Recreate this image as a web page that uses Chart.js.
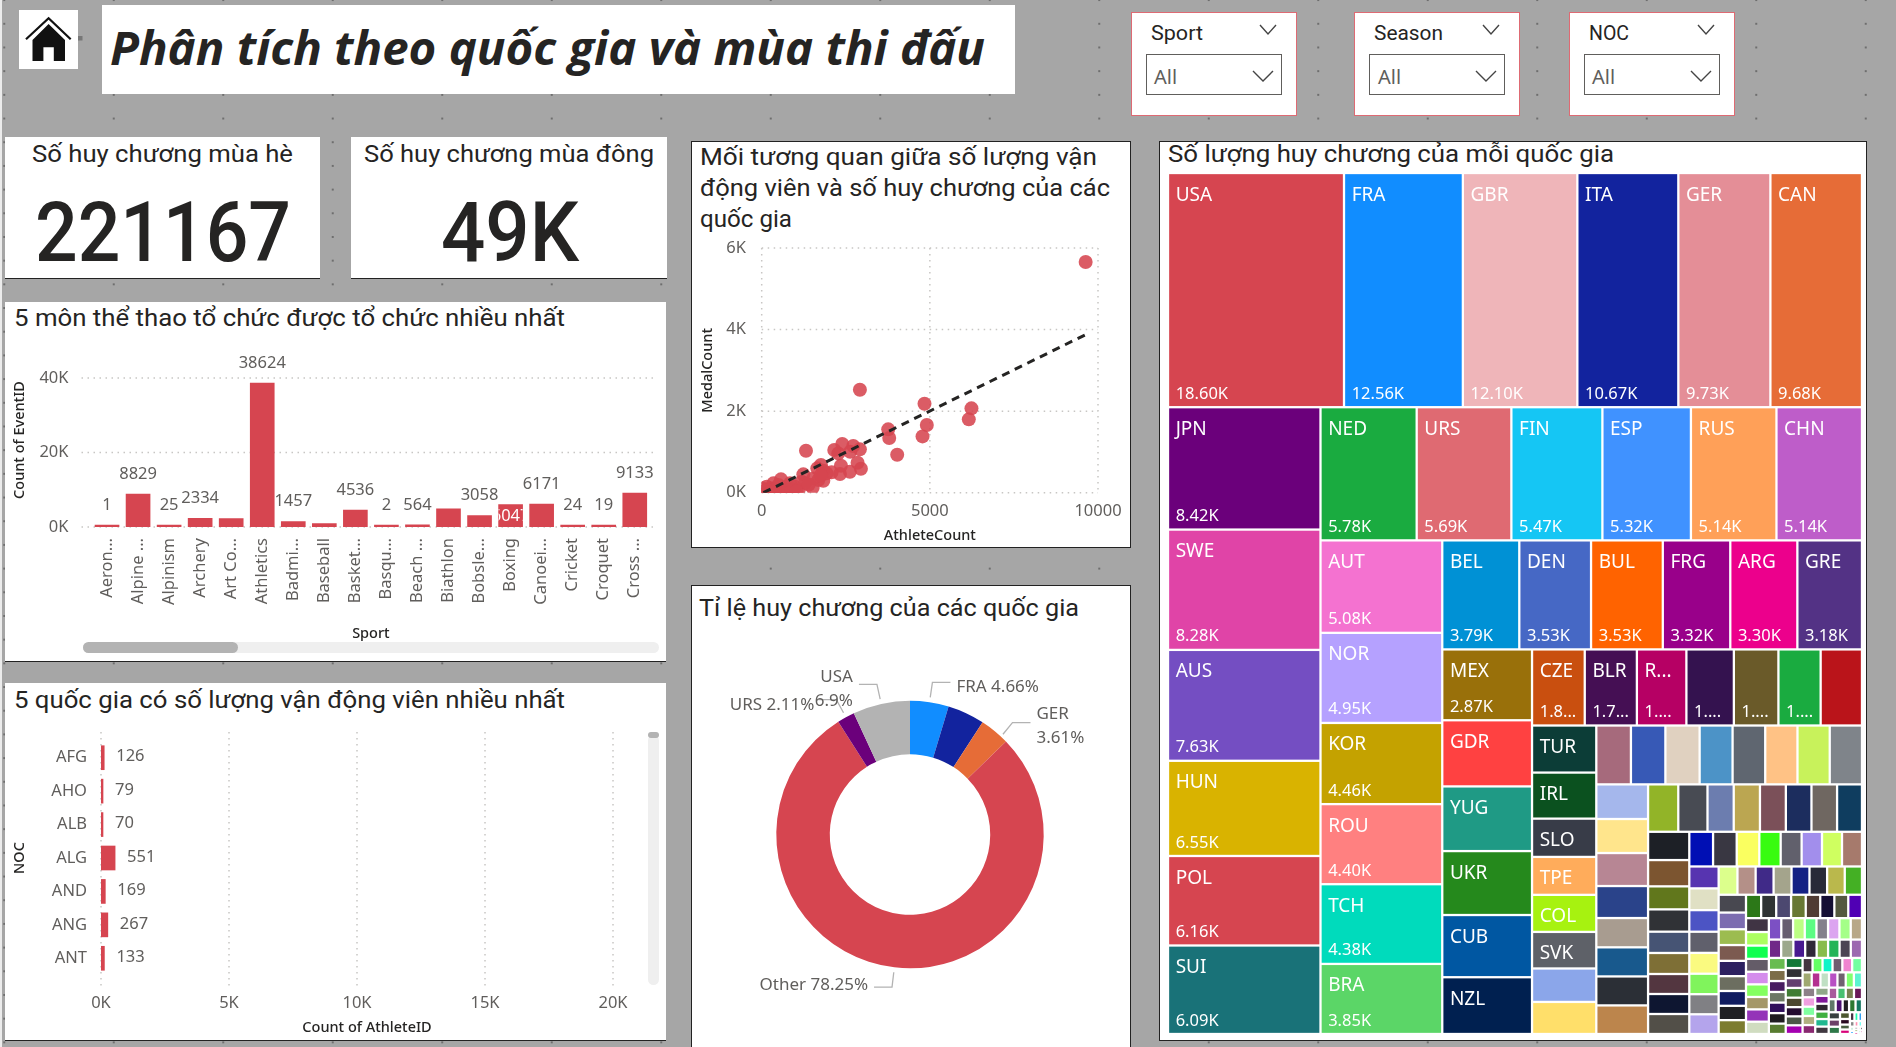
<!DOCTYPE html>
<html lang="vi"><head><meta charset="utf-8"><title>Phân tích theo quốc gia và mùa thi đấu</title>
<script src="https://cdn.jsdelivr.net/npm/chart.js@4/dist/chart.umd.js"></script>
<style>
html,body{margin:0;padding:0;width:1896px;height:1047px;overflow:hidden}
body{position:relative;background-color:#A6A6A6;
background-image:radial-gradient(circle,#6e6e6e 1px,transparent 1.3px);background-size:109.5px 23.7px;background-position:59px 83px}
.p{position:absolute;background:#fff;box-sizing:border-box}
.bb{border-bottom:1.5px solid #222}
.box{border:1.5px solid #222}
canvas{position:absolute;display:block}
.t{position:absolute;white-space:nowrap;transform-origin:left center;line-height:1;color:#252423;font-family:Roboto,sans-serif;font-size:24px}
.sl{border:1.5px solid #DE6A73}
.dd{position:absolute;box-sizing:border-box;border:1.5px solid #605E5C;background:#fff;top:54px;height:41px;width:136px}
.sb{position:absolute;background:#EFEFEF;border-radius:6px}
.th{position:absolute;background:#B3B3B3;border-radius:6px}
svg{position:absolute;overflow:visible}
</style></head><body>
<div style="position:absolute;left:0;top:0;width:2px;height:1047px;background:#ececec"></div>

<div class="p" style="left:19px;top:10px;width:59px;height:59px"></div>
<svg style="left:0;top:0" width="100" height="80">
<polygon points="48.6,24 32.5,40 32.5,61 43.4,61 43.4,47.3 53.8,47.3 53.8,61 65,61 65,40" fill="#111"/>
<polyline points="26,39.3 48.6,18.3 70.7,39.3" fill="none" stroke="#111" stroke-width="2.2"/>
<rect x="78" y="36" width="4.5" height="4.5" fill="#777"/></svg>
<div class="p" style="left:102px;top:5px;width:913px;height:89px"></div>
<div class="t" data-w="875" style="left:110px;top:47px;font:italic 700 46px 'Open Sans',sans-serif;line-height:1">Phân tích theo quốc gia và mùa thi đấu</div>

<div class="p sl" style="left:1131px;top:12px;width:166px;height:104px"></div>
<div class="p sl" style="left:1354px;top:12px;width:166px;height:104px"></div>
<div class="p sl" style="left:1569px;top:12px;width:166px;height:104px"></div>
<div class="t" style="left:1151px;top:33px;font-size:20px" data-w="52">Sport</div>
<div class="t" style="left:1374px;top:33px;font-size:20px" data-w="69">Season</div>
<div class="t" style="left:1589px;top:33px;font-size:20px" data-w="40">NOC</div>
<div class="dd" style="left:1146px"></div><div class="dd" style="left:1369px"></div><div class="dd" style="left:1584px"></div>
<div class="t" style="left:1154px;top:76px;font:20px 'Noto Sans',sans-serif;color:#605E5C">All</div>
<div class="t" style="left:1378px;top:76px;font:20px 'Noto Sans',sans-serif;color:#605E5C">All</div>
<div class="t" style="left:1592px;top:76px;font:20px 'Noto Sans',sans-serif;color:#605E5C">All</div>
<svg style="left:0;top:0" width="1896" height="120" fill="none" stroke="#444" stroke-width="1.4">
<polyline points="1260,25 1268,34 1276,25"/><polyline points="1483,25 1491,34 1499,25"/><polyline points="1698,25 1706,34 1714,25"/>
<polyline points="1253,71 1263,81 1273,71"/><polyline points="1476,71 1486,81 1496,71"/><polyline points="1691,71 1701,81 1711,71"/></svg>

<div class="p bb" style="left:5px;top:137px;width:315px;height:142px"></div>
<div class="p bb" style="left:351px;top:137px;width:316px;height:142px"></div>
<div class="t" data-w="261" style="left:32px;top:154px">Số huy chương mùa hè</div>
<div class="t" data-w="290" style="left:364px;top:154px">Số huy chương mùa đông</div>
<div class="t" data-w="256" style="left:35px;top:233px;font-size:84px;font-weight:500">221167</div>
<div class="t" data-w="138" style="left:441px;top:233px;font-size:84px;font-weight:500">49K</div>

<div class="p bb" style="left:5px;top:302px;width:661px;height:360px"></div>
<div class="t" data-w="551" style="left:14px;top:318px">5 môn thể thao tổ chức được tổ chức nhiều nhất</div>
<canvas id="barChart" width="661" height="360" style="left:5px;top:302px"></canvas>
<div class="sb" style="left:83px;top:642px;width:576px;height:11px"></div>
<div class="th" style="left:83px;top:642px;width:155px;height:11px"></div>

<div class="p bb" style="left:5px;top:683px;width:661px;height:358px"></div>
<div class="t" data-w="551" style="left:14px;top:700px">5 quốc gia có số lượng vận động viên nhiều nhất</div>
<canvas id="hbarChart" width="661" height="358" style="left:5px;top:683px"></canvas>
<div class="sb" style="left:648px;top:735px;width:11px;height:250px"></div>
<div class="th" style="left:648px;top:732px;width:11px;height:6px"></div>

<div class="p box" style="left:691px;top:141px;width:440px;height:407px"></div>
<div class="t" data-w="397" style="left:700px;top:157px">Mối tương quan giữa số lượng vận</div>
<div class="t" data-w="410" style="left:700px;top:188px">động viên và số huy chương của các</div>
<div class="t" data-w="92" style="left:700px;top:219px">quốc gia</div>
<canvas id="scatterChart" width="440" height="407" style="left:691px;top:141px"></canvas>

<div class="p box" style="left:691px;top:585px;width:440px;height:470px"></div>
<div class="t" data-w="380" style="left:699px;top:608px">Tỉ lệ huy chương của các quốc gia</div>
<canvas id="donutChart" width="440" height="462" style="left:691px;top:585px"></canvas>

<div class="p box" style="left:1159px;top:141px;width:708px;height:900px"></div>
<div class="t" data-w="446" style="left:1168px;top:154px">Số lượng huy chương của mỗi quốc gia</div>
<canvas id="treemapChart" width="694" height="861" style="left:1168px;top:173px"></canvas>

<script>
// ---------- data ----------
const sports = ['Aeron...','Alpine ...','Alpinism','Archery','Art Co...','Athletics','Badmi...','Baseball','Basket...','Basqu...','Beach ...','Biathlon','Bobsle...','Boxing','Canoei...','Cricket','Croquet','Cross ...'];
const eventCounts = [1,8829,25,2334,2230,38624,1457,894,4536,2,564,4893,3058,6047,6171,24,19,9133];
const hiddenBarLabels = ['Art Co...','Baseball','Biathlon'];
const insideBarLabels = ['Boxing'];
const eventTicks = [0,20000,40000];

const nocCodes = ['AFG','AHO','ALB','ALG','AND','ANG','ANT'];
const athleteCounts = [126,79,70,551,169,267,133];
const athleteTicks = [0,5000,10000,15000,20000];

const scatterAthletes = [9633,2920,4841,6237,6158,4910,4782,3762,3792,4029,1317,2396,2722,2158,2277,2633,2920,1762,1653,2356,2851,2950,2623,2327,2079,1832,1930,1238,1832,1683,1515,1535,574,842,1188,990,743,347,149,50,10,100,250,450,550,350,650,950,1100,200,30,500,1290,20,60,120,180,280,400,480,620,720,800,880,1040,1400,1750];
const scatterMedals   = [5657,2526,2182,2068,1798,1659,1381,1553,1340,932,1030,1193,1144,1046,964,1005,1063,678,597,662,736,589,515,458,499,540,474,450,294,310,123,351,327,229,270,147,131,229,147,80,20,50,110,110,70,50,80,70,80,40,70,190,230,110,30,10,60,20,30,20,30,20,60,20,30,200,420];
const trendAthletes = [50,9650];
const trendMedals = [0,3883];
const scatterXTicks = [0,5000,10000];
const scatterYTicks = [0,2000,4000,6000];

const donutNames = ['FRA','GBR','GER','Other','URS','USA'];
const donutShares = [4.66,4.47,3.61,78.25,2.11,6.9];
const donutColors = ['#118DFF','#12239E','#E66C37','#D64550','#6B007B','#B3B3B3'];
const donutUnlabelled = ['GBR'];
const donutTwoLine = ['USA','GER'];

const treemapNames = ['USA','FRA','GBR','ITA','GER','CAN','JPN','SWE','AUS','HUN','POL','SUI','NED','URS','FIN','ESP','RUS','CHN','AUT','NOR','KOR','ROU','TCH','BRA','BEL','DEN','BUL','FRG','ARG','GRE','MEX','GDR','YUG','UKR','CUB','NZL','CZE','BLR','R...','','','','','TUR','IRL','SLO','TPE','COL','SVK'];
const treemapValues = [
18600,12560,12100,10670,9730,9680,
8420,8280,7630,6550,6160,6090,
5780,5690,5470,5320,5140,5140,
5080,4950,4460,4400,4380,3850,
3790,3530,3530,3320,3300,3180,
2870,2680,2620,2590,2520,2300,
1810,1790,1700,1630,1530,1450,1420,
1365,1335,1110,1100,1075,1060,970,930,
920,915,910,875,867,857,857,857,
809,795,771,748,684,680,677,668,
646,625,561,561,554,548,548,533,
526,489,428,415,396,391,372,372,372,
372,370,354,334,328,319,313,313,
290,288,286,280,276,271,266,261,240,
232,229,229,229,225,225,220,220,
206,195,195,189,183,183,177,171,160,
159,157,155,153,149,147,145,143,
140,137,133,130,130,128,127,127,120,
114,113,113,112,110,109,109,102,
101,98,95,95,95,93,93,91,
85,83,81,80,80,79,77,
76,75,74,72,70,68,66,65,
65,65,64,64,64,63,
60,59,58,57,56,56,55,
54,53,52,51,50,48,
47,46,46,45,45,44,
43,42,41,41,38,
38,38,37,37,37,
30,25,22,20,
18,16,14,12,10,
9,8,6,5,5,4,3,3,2,2,1,1];
const treemapColors = [
'#D64550','#118DFF','#EFB5B9','#12239E','#E48E97','#E66C37',
'#6B007B','#E044A7','#744EC2','#D9B300','#D64550','#197278',
'#1AAB40','#DF6A72','#15C6F4','#4092FF','#FFA058','#BE5DC9',
'#F472D0','#B5A1FF','#C4A200','#FF8080','#00DBBC','#5BD667',
'#0091D5','#4668C5','#FF6300','#99008A','#EC008C','#533285',
'#99700A','#FF4141','#1F9A85','#25891C','#0057A2','#002050',
'#C94F0F','#450F54','#B60064','#34124F','#6A5A29','#1AAB40','#BA141A',
'#0C3D37','#0B511F','#383C48','#FFAC5B','#A7F210','#5E6168','#8BA6EA','#FFDF6A',
'#A66A7C','#3759B6','#E0D1C0','#4C93C7','#5F6670','#FFC285','#C8F25B','#7F848A',
'#A5B7EC','#FFE58C','#B78694','#2A438A','#A89C90','#18598D','#2B2F36','#BC854C',
'#92B428','#484B53','#6C7DAF','#BBA651','#7B5059','#1C2D5E','#6F6761','#0F3D5F',
'#1D2026','#7C5530','#61771C','#303236','#465474','#7E6F36','#533640','#0E1631','#524F48',
'#000FB4','#393742','#FAFF60','#38FC10','#61606C','#A28EEC','#CFFF60','#A67A6C',
'#5734B0','#E0E0C4','#4C54C4','#60606C','#FAFA80','#80F45C','#808084','#B4A4EC','#DCFF8C',
'#B49088','#402A88','#A4A48C','#142184','#282A38','#BAB84C','#44B024','#484850',
'#7C6CB0','#9CBC50','#7C5A50','#2C2060','#6C6E60','#101C60','#202024','#7C7C30','#2C7818',
'#303434','#4C4870','#687834','#503C34','#140E34','#54583F','#5000B4','#403444',
'#ACFF60','#10FF50','#645C68','#D48CEC','#84FF60','#A49868','#9434B8','#D0DCC0','#7C50C4',
'#665C70','#BCFF84','#5CFC84','#84808C','#DCA4F0','#A4FF88','#B8A888','#702888',
'#9CA88C','#481890','#302838','#88BC4C','#24B458','#4C4454','#9C68B0','#68BC50',
'#7C6C48','#481C60','#6C7864','#30105C','#1F1C20','#587C30','#147838',
'#303034','#644070','#407C34','#4C4830','#240C30','#4C5848','#A400B0','#443440',
'#64FF64','#10F4C8','#705C70','#F084D0','#74FFA0','#A0A870',
'#B43090','#C0E0C4','#B850C4','#706070','#80FF70','#5CF4D0','#8C8088',
'#F0A0E0','#80FFA0','#B0B080','#882870','#90A888','#801898',
'#302830','#40B040','#20B890','#403840','#A85C9C','#48C070',
'#788050','#6A1858','#607868','#4C1070','#201E20',
'#2C7830','#147860','#384040','#6C4068','#2E7848',
'#4C5830','#280820','#485C40','#D80078',
'#443040','#20FFB0','#1090F0','#888888','#FF90B0',
'#60FFF0','#D0F0E0','#40B0FF','#888888','#80A050','#E03090','#F0E0F0','#303030','#60FFB0','#C03090','#70A060','#FFE0F0'];

// ---------- text fitting for the DOM captions ----------
document.querySelectorAll('.t').forEach(el=>{
  let k=1;
  if(el.dataset.w){ k=parseFloat(el.dataset.w)/el.getBoundingClientRect().width; }
  el.style.transform='translateY(-50%) scaleX('+k+')';
});

const RED='#D64550', INK='#605E5C', AXIS='#252423';
const TICK_FONT={family:"'Noto Sans',sans-serif",size:16.5};
const TITLE_FONT={family:"'Noto Sans',sans-serif",size:14.5,weight:'500'};
const NO_GRID={display:false,drawTicks:false};
Chart.defaults.animation=false;
Chart.defaults.responsive=false;
Chart.defaults.maintainAspectRatio=false;
Chart.defaults.events=[];
Chart.defaults.plugins.legend.display=false;
Chart.defaults.plugins.tooltip.enabled=false;
const useTicks=list=>scale=>{scale.ticks=list.map(value=>({value}));};

const dottedGrid={id:'dottedGrid',beforeDatasetsDraw(chart,args,o){
  const ctx=chart.ctx,a=chart.chartArea; ctx.save();
  ctx.strokeStyle='#C8C6C4';ctx.lineWidth=1.5;ctx.setLineDash([1.5,4.5]);
  const draw=(x1,y1,x2,y2)=>{ctx.beginPath();ctx.moveTo(x1,y1);ctx.lineTo(x2,y2);ctx.stroke();};
  if(o.y){chart.scales.y.ticks.forEach(t=>{const p=chart.scales.y.getPixelForValue(t.value);draw(a.left-(o.left||0),p,a.right+(o.right||0),p);});}
  if(o.x){chart.scales.x.ticks.forEach(t=>{const p=chart.scales.x.getPixelForValue(t.value);draw(p,a.top-(o.top||0),p,a.bottom+(o.bottom||0));});}
  ctx.restore();
}};

const barLabels={id:'barLabels',afterDatasetsDraw(chart){
  const ctx=chart.ctx,meta=chart.getDatasetMeta(0);ctx.save();
  ctx.font="16.5px 'Noto Sans',sans-serif";ctx.textAlign='center';ctx.textBaseline='middle';
  meta.data.forEach((b,i)=>{
    const name=sports[i];
    if(hiddenBarLabels.includes(name))return;
    if(insideBarLabels.includes(name)){
      ctx.save();ctx.beginPath();ctx.rect(b.x-b.width/2,b.y,b.width,b.base-b.y);ctx.clip();
      ctx.fillStyle='#fff';ctx.fillText(String(eventCounts[i]),b.x,b.y+12);ctx.restore();return;
    }
    ctx.fillStyle=INK;ctx.fillText(String(eventCounts[i]),b.x,b.y-20);
  });ctx.restore();
}};
const hbarLabels={id:'hbarLabels',afterDatasetsDraw(chart){
  const ctx=chart.ctx,meta=chart.getDatasetMeta(0);ctx.save();
  ctx.font="16.5px 'Noto Sans',sans-serif";ctx.textAlign='left';ctx.textBaseline='middle';ctx.fillStyle=INK;
  meta.data.forEach((b,i)=>ctx.fillText(String(athleteCounts[i]),b.x+12,b.y-1));ctx.restore();
}};

const kFmt=v=>(v/1000)+'K';
new Chart(document.getElementById('barChart'),{type:'bar',plugins:[dottedGrid,barLabels],
 data:{labels:sports,datasets:[{data:eventCounts,backgroundColor:RED,barThickness:24,minBarLength:2}]},
 options:{layout:{padding:{top:51,right:15.5,left:0,bottom:0}},
  plugins:{dottedGrid:{y:true,left:10,right:5}},
  scales:{
   x:{grid:NO_GRID,border:{display:false},afterFit(s){s.height=135;},
      ticks:{minRotation:90,maxRotation:90,autoSkip:false,color:INK,font:{family:TICK_FONT.family,size:16.5},padding:11},
      title:{display:true,text:'Sport',color:AXIS,font:TITLE_FONT,padding:{bottom:19.6,top:0}}},
   y:{min:0,max:46711,grid:NO_GRID,border:{display:false},afterFit(s){s.width=86.5;},afterBuildTicks:useTicks(eventTicks),
      ticks:{callback:kFmt,color:INK,font:TICK_FONT,padding:23},
      title:{display:true,text:'Count of EventID',color:AXIS,font:TITLE_FONT,padding:{top:6.6,bottom:0}}}
  }}});

new Chart(document.getElementById('hbarChart'),{type:'bar',plugins:[dottedGrid,hbarLabels],
 data:{labels:nocCodes,datasets:[{data:athleteCounts,backgroundColor:RED,barThickness:24,minBarLength:2}]},
 options:{indexAxis:'y',layout:{padding:{top:58,right:33,left:0,bottom:0}},
  plugins:{dottedGrid:{x:true,top:9,bottom:12}},
  scales:{
   x:{min:0,max:20781,grid:NO_GRID,border:{display:false},afterFit(s){s.height=66;},afterBuildTicks:useTicks(athleteTicks),
      ticks:{callback:kFmt,color:INK,font:TICK_FONT,padding:18,maxRotation:0},
      title:{display:true,text:'Count of AthleteID',color:AXIS,font:TITLE_FONT,padding:{bottom:4.5,top:0}}},
   y:{grid:NO_GRID,border:{display:false},afterFit(s){s.width=96;},
      ticks:{color:INK,font:TICK_FONT,padding:14},
      title:{display:true,text:'NOC',color:AXIS,font:TITLE_FONT,padding:{top:6.6,bottom:0}}}
  }}});

new Chart(document.getElementById('scatterChart'),{type:'scatter',plugins:[dottedGrid],
 data:{datasets:[
  {data:trendAthletes.map((x,i)=>({x,y:trendMedals[i]})),showLine:true,pointRadius:0,borderColor:AXIS,borderWidth:3,borderDash:[8,6],clip:0},
  {data:scatterAthletes.map((x,i)=>({x,y:scatterMedals[i]})),backgroundColor:'rgba(214,69,80,.88)',borderWidth:0,pointRadius:7,clip:0}]},
 options:{layout:{padding:{top:107,right:33,left:0,bottom:0}},
  plugins:{dottedGrid:{x:true,y:true}},
  scales:{
   x:{type:'linear',min:0,max:10000,grid:NO_GRID,border:{display:false},afterFit(s){s.height=55.3;},afterBuildTicks:useTicks(scatterXTicks),
      ticks:{maxRotation:0,color:INK,font:TICK_FONT,padding:8.4,callback:v=>String(v)},
      title:{display:true,text:'AthleteCount',color:AXIS,font:TITLE_FONT,padding:{bottom:3.6,top:0}}},
   y:{type:'linear',min:0,max:6000,grid:NO_GRID,border:{display:false},afterFit(s){s.width=70.7;},afterBuildTicks:useTicks(scatterYTicks),
      ticks:{callback:kFmt,color:INK,font:TICK_FONT,padding:15.7},
      title:{display:true,text:'MedalCount',color:AXIS,font:TITLE_FONT,padding:{top:8.6,bottom:0}}}
  }}});

const donutLabelAdjust={GER:{lead:[5,7],text:[0,-2]},FRA:{text:[0,2]},URS:{text:[2,3]},Other:{text:[0,-5]},USA:{text:[0,0]}};
const donutLabels={id:'donutLabels',afterDatasetsDraw(chart){
  const ctx=chart.ctx,meta=chart.getDatasetMeta(0);ctx.save();
  ctx.font="17px 'Noto Sans',sans-serif";ctx.textBaseline='middle';
  meta.data.forEach((arc,i)=>{
    const name=donutNames[i]; if(donutUnlabelled.includes(name))return;
    const adj=donutLabelAdjust[name]||{},L=adj.lead||[0,0],T=adj.text||[0,0];
    const mid=(arc.startAngle+arc.endAngle)/2,c=Math.cos(mid),s=Math.sin(mid),R=arc.outerRadius;
    const side=c>=0?1:-1;
    const ax=arc.x+c*(R+5)+L[0],ay=arc.y+s*(R+5)+L[1],ex=arc.x+c*(R+20)+L[0],ey=arc.y+s*(R+20)+L[1],hx=ex+side*18;
    ctx.strokeStyle='#B3B3B3';ctx.lineWidth=1.3;ctx.beginPath();ctx.moveTo(ax,ay);ctx.lineTo(ex,ey);ctx.lineTo(hx,ey);ctx.stroke();
    ctx.fillStyle=INK;ctx.textAlign=side>0?'left':'right';
    const tx=hx+side*6+T[0],ty=ey+T[1],pct=donutShares[i]+'%';
    if(donutTwoLine.includes(name)){
      ctx.fillText(name,tx,ty-7);ctx.fillText(pct,tx,ty+17);
    } else ctx.fillText(name+' '+pct,tx,ty+3);
  });ctx.restore();
}};
new Chart(document.getElementById('donutChart'),{type:'doughnut',plugins:[donutLabels],
 data:{labels:donutNames,datasets:[{data:donutShares,backgroundColor:donutColors,borderWidth:0}]},
 options:{cutout:'60%',layout:{padding:{left:85.3,right:87.3,top:115.8,bottom:78.8}}}});

// ---------- treemap: cells from the values, squarified, placed through the chart's scales ----------
const TM_W=694,TM_H=861,TM_RATIO=(1+Math.sqrt(5))/2;
function squarify(values,w,h){
  const out=[];let x0=0,y0=0,x1=w,y1=h,i0=0,i1=0,n=values.length,value=values.reduce((a,b)=>a+b,0);
  while(i0<n){
    const dx=x1-x0,dy=y1-y0;
    let sum=values[i1++],minV=sum,maxV=sum;
    const alpha=Math.max(dy/dx,dx/dy)/(value*TM_RATIO);
    let beta=sum*sum*alpha,minRatio=Math.max(maxV/beta,beta/minV);
    for(;i1<n;++i1){
      const v=values[i1];sum+=v;if(v<minV)minV=v;if(v>maxV)maxV=v;
      beta=sum*sum*alpha;const nr=Math.max(maxV/beta,beta/minV);
      if(nr>minRatio){sum-=v;break;}
      minRatio=nr;
    }
    if(dx<dy){
      const y2=y0+dy*sum/value;let x=x0;
      for(let i=i0;i<i1;i++){const xe=x+dx*values[i]/sum;out.push({x0:x,x1:xe,y0:y0,y1:y2,i});x=xe;}
      y0=y2;
    }else{
      const x2=x0+dx*sum/value;let y=y0;
      for(let i=i0;i<i1;i++){const ye=y+dy*values[i]/sum;out.push({x0:x0,x1:x2,y0:y,y1:ye,i});y=ye;}
      x0=x2;
    }
    value-=sum;i0=i1;
  }
  return out;
}
class TreemapCell extends Chart.Element{
  draw(ctx){
    const g=1.15,x=this.left+g,y=this.top+g,w=this.right-this.left-2*g,h=this.bottom-this.top-2*g;
    ctx.fillStyle=this.color;ctx.fillRect(x,y,Math.max(w,.6),Math.max(h,.6));
    ctx.fillStyle='#fff';ctx.textBaseline='middle';ctx.textAlign='left';
    if(this.name&&h>=33&&w>=44){ctx.font="19px 'Noto Sans',sans-serif";ctx.fillText(this.name,x+6.5,y+21);}
    if(h>=66&&w>=39.6){
      ctx.font="16.5px 'Noto Sans',sans-serif";
      let s=(this.value/1000).toFixed(2)+'K';const avail=w-12;
      if(ctx.measureText(s).width>avail){
        let n=s.length-1;while(n>1&&ctx.measureText(s.slice(0,n)+'...').width>avail)n--;
        s=s.slice(0,n)+'...';
      }
      ctx.fillText(s,x+6.5,y+h-12);
    }
  }
}
TreemapCell.id='treemapCell';TreemapCell.defaults={};
class TreemapController extends Chart.DatasetController{
  update(){
    const meta=this._cachedMeta,xs=meta.xScale,ys=meta.yScale,cells=this.getDataset().data;
    meta.data.forEach((el,k)=>{
      const c=cells[k];
      Object.assign(el,{left:xs.getPixelForValue(c.x0),right:xs.getPixelForValue(c.x1),top:ys.getPixelForValue(c.y0),bottom:ys.getPixelForValue(c.y1),
        x:xs.getPixelForValue((c.x0+c.x1)/2),y:ys.getPixelForValue((c.y0+c.y1)/2),
        color:treemapColors[c.i]||'#888',name:treemapNames[c.i]||'',value:treemapValues[c.i]});
    });
  }
  draw(){const ctx=this.chart.ctx;this._cachedMeta.data.forEach(el=>el.draw(ctx));}
}
TreemapController.id='treemap';
TreemapController.defaults={dataElementType:'treemapCell',datasetElementType:false};
TreemapController.overrides={scales:{x:{type:'linear'},y:{type:'linear'}}};
Chart.register(TreemapCell,TreemapController);
new Chart(document.getElementById('treemapChart'),{type:'treemap',
 data:{datasets:[{label:'Medals',data:squarify(treemapValues,TM_W,TM_H),parsing:false,normalized:true}]},
 options:{layout:{padding:0},scales:{
  x:{type:'linear',min:0,max:TM_W,display:false},
  y:{type:'linear',min:0,max:TM_H,reverse:true,display:false}}}});
</script>
</body></html>
